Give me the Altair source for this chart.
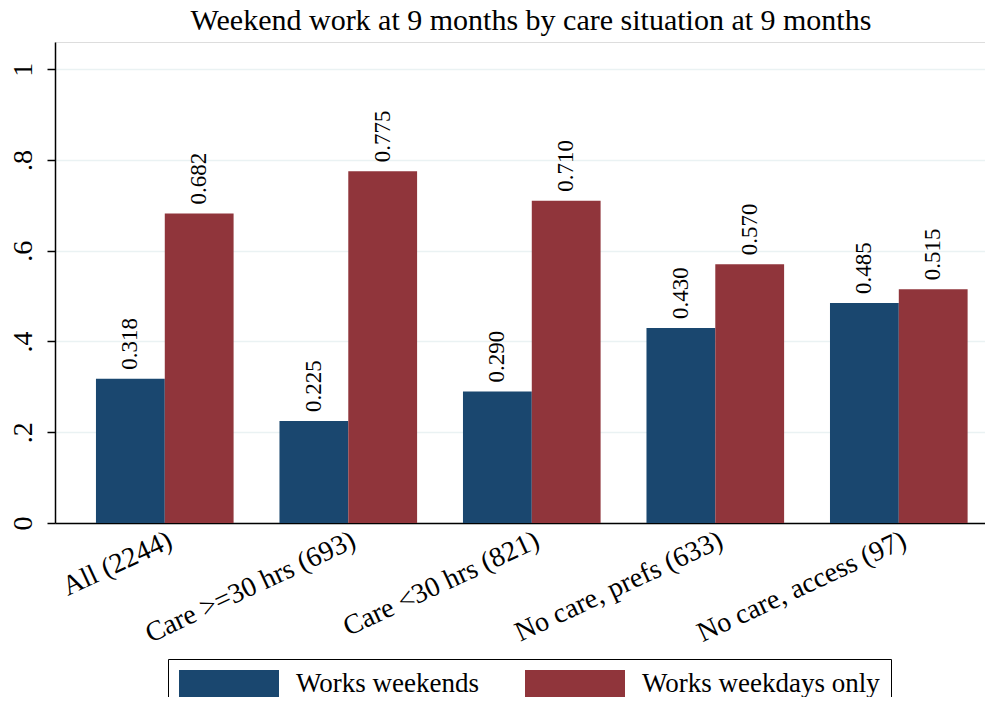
import altair as alt
import pandas as pd

categories = ["All (2244)", "Care >=30 hrs (693)", "Care <30 hrs (821)",
              "No care, prefs (633)", "No care, access (97)"]
series = ["Works weekends", "Works weekdays only"]
weekends = [0.318, 0.225, 0.290, 0.430, 0.485]
weekdays = [0.682, 0.775, 0.710, 0.570, 0.515]
colors = ["#1a476f", "#90353b"]
y_ticks = [0, 0.2, 0.4, 0.6, 0.8, 1]

rows = []
for c, a, b in zip(categories, weekends, weekdays):
    rows.append({"category": c, "series": series[0], "value": a})
    rows.append({"category": c, "series": series[1], "value": b})
df = pd.DataFrame(rows)

FONT = "Liberation Serif"

x_enc = alt.X("category:N", sort=categories, title=None,
              scale=alt.Scale(paddingInner=0.25, paddingOuter=0.159, align=0.702),
              axis=alt.Axis(labelAngle=335, labelAlign="right", labelBaseline="top",
                            labelFont=FONT, labelFontSize=28, labelColor="black",
                            labelPadding=3, ticks=False, domainColor="black",
                            domainWidth=1.5, grid=False, labelLimit=400))
xo_enc = alt.XOffset("series:N", sort=series,
                     scale=alt.Scale(paddingInner=0, paddingOuter=0))
y_enc = alt.Y("value:Q", title=None,
              scale=alt.Scale(domain=[0, 1.06], nice=False, zero=True),
              axis=alt.Axis(values=y_ticks, labelAngle=270, labelAlign="center",
                            labelBaseline="bottom", labelFont=FONT, labelFontSize=28,
                            labelColor="black", labelPadding=10, tickSize=8,
                            tickColor="black", tickWidth=1.5, domainColor="black",
                            domainWidth=1.5, grid=True, gridColor="#eaf2f3",
                            gridWidth=1.5,
                            labelExpr="datum.value == 0 ? '0' : datum.value == 1 ? '1' : replace(format(datum.value, '.1f'), '0.', '.')"))

bars = alt.Chart(df).mark_bar(strokeWidth=0).encode(
    x=x_enc, xOffset=xo_enc, y=y_enc,
    color=alt.Color("series:N", sort=series,
                    scale=alt.Scale(domain=series, range=colors),
                    legend=alt.Legend(title=None, orient="none", legendX=113, legendY=617,
                                      direction="horizontal", columns=2,
                                      strokeColor="black", fillColor="white",
                                      padding=11, symbolType="M-3.7037,-1H3.7037V1H-3.7037Z",
                                      symbolSize=729, symbolOffset=36.5, labelOffset=53.5,
                                      columnPadding=45, labelFont=FONT, labelFontSize=27,
                                      labelColor="black", symbolStrokeWidth=0,
                                      symbolOpacity=1, labelLimit=400))
)

labels = alt.Chart(df).mark_text(angle=270, align="left", baseline="middle", dx=9,
                                 font=FONT, fontSize=23, color="black").encode(
    x=alt.X("category:N", sort=categories),
    xOffset=alt.XOffset("series:N", sort=series),
    y=alt.Y("value:Q"),
    text=alt.Text("value:Q", format=".3f"),
)

chart = alt.layer(bars, labels).properties(
    width=930, height=481,
    autosize=alt.AutoSizeParams(type="none"),
    padding={"left": 47, "top": 34, "right": 0, "bottom": 174},
    title=alt.TitleParams("Weekend work at 9 months by care situation at 9 months",
                          font=FONT, fontSize=30, fontWeight="normal", color="black",
                          anchor="middle", offset=6, dx=11),
).configure_view(strokeWidth=0).configure(background="white")

chart.save("out.html", embed_options={"renderer": "svg", "actions": False})
